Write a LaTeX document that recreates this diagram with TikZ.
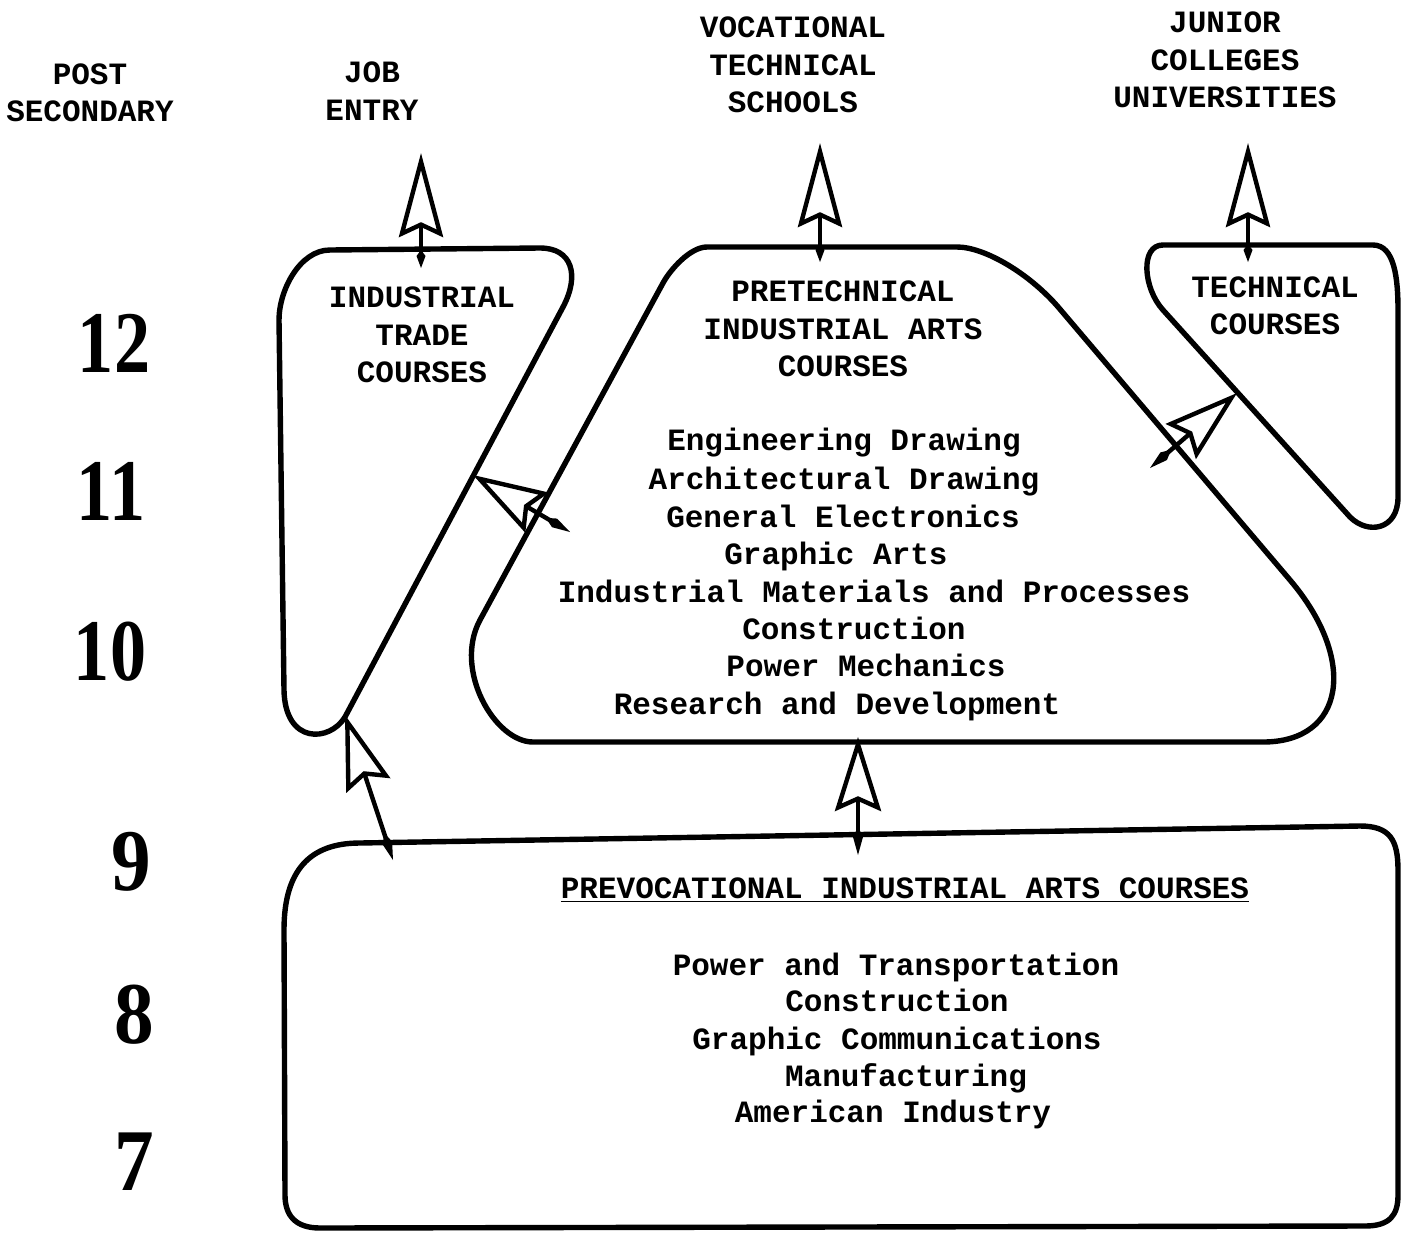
\documentclass[tikz,border=0pt]{standalone}
\usepackage{graphicx}
\usepackage{fontspec}
\setmonofont{Liberation Mono}
\newfontfamily\gradefont{Liberation Serif}
\usetikzlibrary{arrows.meta}

\begin{document}
\begin{tikzpicture}[
    x=0.5pt, y=-0.5pt,
    outline/.style={line width=2.7pt, line join=round},
    label/.style={font=\ttfamily\bfseries\fontsize{15.5}{18.75}\selectfont, align=center, inner sep=0pt},
    course/.style={font=\ttfamily\bfseries\fontsize{15.5}{18.75}\selectfont, anchor=base, inner sep=0pt},
    grade/.style={font=\gradefont\bfseries\fontsize{44}{44}\selectfont, inner sep=0pt},
    exitarrow/.style={line width=2.2pt, {Kite[length=9pt, width=4.5pt, inset=3pt]}-{Stealth[open, length=42pt, width=22pt, inset=5pt]}},
    liftarrow/.style={line width=2.2pt, {Kite[length=14pt, width=5pt, inset=5pt]}-{Stealth[open, length=37pt, width=23pt, inset=5pt]}},
]
\useasboundingbox (0,0) rectangle (1403,1232);

% Course blocks
\draw[outline] (345,717) -- (563,307) .. controls (580,275) and (572,248) .. (540,248)
    -- (330,250) .. controls (300,250) and (279,290) .. (279,320)
    -- (284,690) .. controls (285,745) and (330,742) .. cycle;
\draw[outline] (707,247) -- (957,247) .. controls (985,247) and (1030,274) .. (1059,308)
    -- (1290,580) .. controls (1358,660) and (1345,742) .. (1263,742)
    -- (533,742) .. controls (495,742) and (453,670) .. (480,620)
    -- (663,283) .. controls (670,270) and (690,247) .. cycle;
\draw[outline] (1163,245) -- (1373,245) .. controls (1395,245) and (1398,280) .. (1398,310)
    -- (1398,497) .. controls (1398,530) and (1368,535) .. (1350,517)
    -- (1163,310) .. controls (1143,288) and (1140,245) .. cycle;
\draw[outline] (360,843) -- (1360,826) .. controls (1390,826) and (1398,840) .. (1398,870)
    -- (1398,1195) .. controls (1398,1215) and (1390,1226) .. (1365,1226)
    -- (320,1228) .. controls (295,1228) and (285,1215) .. (285,1195)
    -- (284,930) .. controls (284,870) and (310,843) .. cycle;

% Grades
\node[grade] (g12) at (114,343) {\scalebox{0.82}[1]{12}};
\node[grade] (g11) at (111,491) {\scalebox{0.82}[1]{11}};
\node[grade] (g10) at (110,652) {\scalebox{0.82}[1]{10}};
\node[grade] (g9) at (131,862) {\scalebox{0.9}[1]{9}};
\node[grade] (g8) at (134,1015) {\scalebox{0.9}[1]{8}};
\node[grade] (g7) at (134,1162) {\scalebox{0.9}[1]{7}};

% Labels
\node[label] (post) at (90,93) {POST\\SECONDARY};
\node[label] (job) at (372,91) {JOB\\ENTRY};
\node[label] (voc) at (793,65) {VOCATIONAL\\TECHNICAL\\SCHOOLS};
\node[label] (jrcol) at (1225,60) {JUNIOR\\COLLEGES\\UNIVERSITIES};
\node[label] (trade) at (422,335) {INDUSTRIAL\\TRADE\\COURSES};
\node[label] (pretech) at (843,329) {PRETECHNICAL\\INDUSTRIAL ARTS\\COURSES};
\node[label] (tech) at (1275,306) {TECHNICAL\\COURSES};
\node[course] (prevoc) at (905,898) {\underline{PREVOCATIONAL INDUSTRIAL ARTS COURSES}};

% Course lists
\foreach \xx/\yy/\txt [count=\i] in {844/450/Engineering Drawing, 844/489/Architectural Drawing,
    843/527/General Electronics, 836/564/Graphic Arts, 874/602/Industrial Materials and Processes,
    854/639/Construction, 866/676/Power Mechanics, 837/714/Research and Development}
  \node[course] (pre\i) at (\xx,\yy) {\txt};
\foreach \xx/\yy/\txt [count=\i] in {896/975/Power and Transportation, 897/1011/Construction,
    897/1049/Graphic Communications, 906/1086/Manufacturing, 893/1122/American Industry}
  \node[course] (voc\i) at (\xx,\yy) {\txt};

% Arrow ends
\coordinate (jobfoot) at (421,268);
\coordinate (jobtip) at (421,153);
\coordinate (vocfoot) at (820,262);
\coordinate (voctip) at (820,143);
\coordinate (jrfoot) at (1248,262);
\coordinate (jrtip) at (1248,143);
\coordinate (pretfoot) at (858,855);
\coordinate (prettip) at (858,737);
\coordinate (tradefoot) at (393,860);
\coordinate (tradetip) at (345,715);
\coordinate (sidefoot) at (570,532);
\coordinate (sidetip) at (473,475);
\coordinate (techfoot) at (1150,468);
\coordinate (techtip) at (1237,393);

% Arrows
\draw[exitarrow] (jobfoot) -- (jobtip);
\draw[exitarrow] (vocfoot) -- (voctip);
\draw[exitarrow] (jrfoot) -- (jrtip);
\draw[liftarrow] (pretfoot) -- (prettip);
\draw[liftarrow] (tradefoot) -- (tradetip);
\draw[liftarrow] (sidefoot) -- (sidetip);
\draw[liftarrow] (techfoot) -- (techtip);
\end{tikzpicture}
\end{document}
